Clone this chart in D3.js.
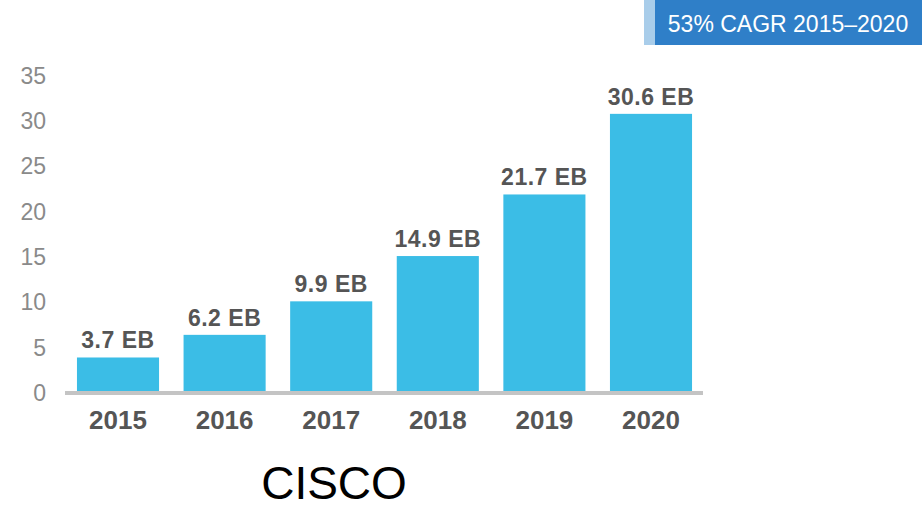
<!DOCTYPE html>
<html>
<head>
<meta charset="utf-8">
<script src="https://cdn.jsdelivr.net/npm/d3@7"></script>
<style>
  html, body { margin: 0; padding: 0; background: #fff; }
  svg { display: block; }
</style>
</head>
<body>
<svg id="chart" width="922" height="509"></svg>
<script>
// Annual traffic, exabytes per month
const years = ["2015", "2016", "2017", "2018", "2019", "2020"];
const traffic = [3.7, 6.2, 9.9, 14.9, 21.7, 30.6];
const yTicks = [0, 5, 10, 15, 20, 25, 30, 35];
const badgeText = "53% CAGR 2015\u20132020";
const footerText = "CISCO";

const svg = d3.select("#chart");
const font = "'Liberation Sans', Arial, sans-serif";

const x = d3.scaleBand()
  .domain(years)
  .range([66.3, 702.7])
  .paddingInner(0.23)
  .paddingOuter(0.1);

const y = d3.scaleLinear()
  .domain([0, 35])
  .range([391, 74]);

// y-axis tick labels (no axis line)
const yAxis = d3.axisLeft(y).tickValues(yTicks).tickSize(0).tickPadding(0);
const gy = svg.append("g").attr("transform", "translate(46,2)").call(yAxis);
gy.select(".domain").remove();
gy.selectAll("text")
  .attr("fill", "#8a8a8a")
  .style("font-family", font)
  .style("font-size", "23px");

// bars
svg.append("g").selectAll("rect")
  .data(years)
  .join("rect")
  .attr("x", d => x(d))
  .attr("width", x.bandwidth())
  .attr("y", (d, i) => y(traffic[i]))
  .attr("height", (d, i) => y(0) - y(traffic[i]))
  .attr("fill", "#3bbde6");

// baseline
svg.append("rect")
  .attr("x", 65).attr("width", 638)
  .attr("y", y(0)).attr("height", 4)
  .attr("fill", "#c4c4c4");

// value labels
svg.append("g").selectAll("text")
  .data(years)
  .join("text")
  .attr("x", d => x(d) + x.bandwidth() / 2)
  .attr("y", (d, i) => y(traffic[i]) - 9)
  .attr("text-anchor", "middle")
  .attr("fill", "#555")
  .style("font-family", font)
  .style("font-weight", "bold")
  .style("font-size", "23px")
  .style("letter-spacing", "0.5px")
  .text((d, i) => traffic[i].toFixed(1) + " EB");

// x-axis year labels
const xAxis = d3.axisBottom(x).tickSize(0).tickPadding(0);
const gx = svg.append("g").call(xAxis);
gx.select(".domain").remove();
gx.selectAll("text")
  .attr("dy", null)
  .attr("y", 429)
  .attr("fill", "#555")
  .style("font-family", font)
  .style("font-weight", "bold")
  .style("font-size", "26px");

// CAGR badge
svg.append("rect").attr("x", 644).attr("y", 0).attr("width", 278).attr("height", 45).attr("fill", "#2f7fc8");
svg.append("rect").attr("x", 644).attr("y", 0).attr("width", 11).attr("height", 45).attr("fill", "#a9cdea");
svg.append("text")
  .attr("x", 788).attr("y", 32)
  .attr("text-anchor", "middle")
  .attr("fill", "#fff")
  .style("font-family", font)
  .style("font-size", "23px")
  .text(badgeText);

// footer
svg.append("text")
  .attr("x", 334).attr("y", 499)
  .attr("text-anchor", "middle")
  .attr("fill", "#000")
  .style("font-family", font)
  .style("font-size", "46px")
  .text(footerText);
</script>
</body>
</html>
